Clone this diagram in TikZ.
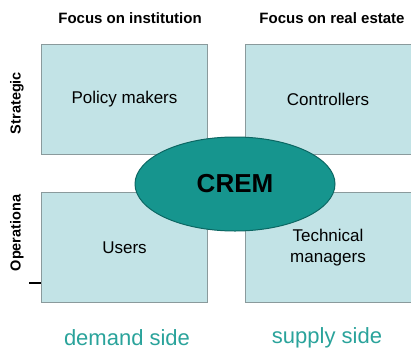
\documentclass[tikz,border=0pt]{standalone}
\usepackage{fontspec}
\setmainfont{Liberation Sans}
\usetikzlibrary{shapes.geometric}
\definecolor{boxfill}{HTML}{C2E3E6}
\definecolor{boxline}{HTML}{8A9A9C}
\definecolor{cremfill}{HTML}{16958E}
\definecolor{cremline}{HTML}{0C6763}
\definecolor{sidetext}{HTML}{2AA39B}
\begin{document}
\begin{tikzpicture}[x=1pt,y=-1pt,
    role/.style={draw=boxline,line width=1pt,fill=boxfill,minimum width=166pt,minimum height=110pt,
      align=center,font=\fontsize{17}{21}\selectfont},
    head/.style={font=\bfseries\fontsize{15}{18}\selectfont},
    level/.style={font=\bfseries\fontsize{14.5}{17}\selectfont,rotate=90},
    side/.style={text=sidetext,font=\fontsize{22}{26}\selectfont}]
  \useasboundingbox(0,0)rectangle(411,351);
  % the four quadrants
  \node[role](policy) at(124.5,99){Policy makers};
  \node[role](ctrl) at(328,99){Controllers};
  \node[role](users) at(124.5,247.5){Users};
  \node[role](tech) at(328,247.5){Technical\\managers};
  % column and row headings
  \node[head](inst) at(130,18){Focus on institution};
  \node[head](real) at(332,18){Focus on real estate};
  \node[level](strat) at(17,103){Strategic};
  \node[level](oper) at(17,233){Operationa};
  \coordinate(tick) at(29,283);
  \draw[line width=1.2pt](tick)--(tick-|users.west);
  % centre
  \node[ellipse,draw=cremline,line width=1pt,fill=cremfill,minimum width=200pt,minimum height=94pt,
    font=\bfseries\fontsize{26}{30}\selectfont](crem) at(235,184){CREM};
  \node[side](demand) at(127,338){demand side};
  \node[side](supply) at(327,338){supply side};
\end{tikzpicture}
\end{document}
